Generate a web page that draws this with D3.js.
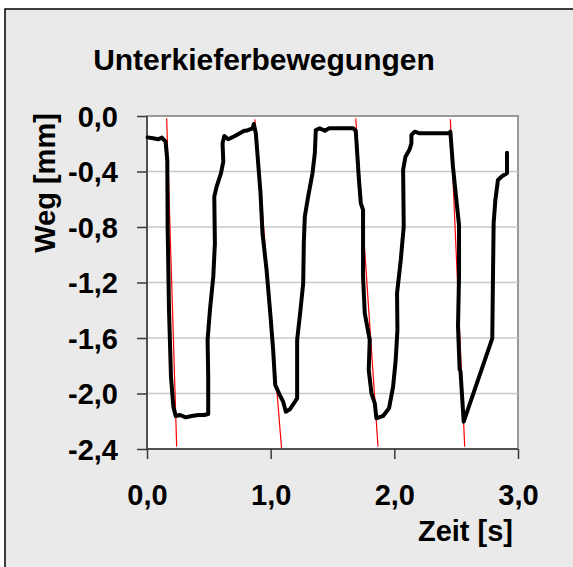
<!DOCTYPE html>
<html>
<head>
<meta charset="utf-8">
<script src="https://cdn.jsdelivr.net/npm/d3@7"></script>
<style>
  body { margin: 0; background: #ffffff; }
  svg { display: block; font-family: "Liberation Sans", Arial, sans-serif; }
  .axis path, .axis line { stroke: #3a3a3a; stroke-width: 1.5; }
  .axis text { font-weight: bold; font-size: 29px; fill: #000; }
</style>
</head>
<body>
<div id="chart"></div>
<script>
// measured jaw movement (time in s, path in mm)
const timeS = [0.005, 0.05, 0.09, 0.12, 0.15, 0.164, 0.167, 0.178, 0.194, 0.213, 0.232, 0.267, 0.313, 0.361, 0.415, 0.463, 0.495,
  0.495, 0.49, 0.509, 0.536, 0.549, 0.544, 0.563, 0.598, 0.617, 0.611, 0.625, 0.657, 0.711, 0.786, 0.805, 0.854, 0.864, 0.88,
  0.918, 0.934, 0.967, 0.999, 1.02, 1.037, 1.074, 1.101, 1.123, 1.155, 1.214, 1.214, 1.241, 1.263, 1.268, 1.276, 1.303, 1.338,
  1.357, 1.365, 1.397, 1.438, 1.473, 1.553, 1.667, 1.688, 1.712, 1.729, 1.747, 1.747, 1.761, 1.801, 1.793, 1.815, 1.842, 1.855,
  1.909, 1.957, 1.99, 2.011, 2.025, 2.022, 2.052, 2.076, 2.071, 2.09, 2.124, 2.138, 2.138, 2.165, 2.205, 2.321, 2.442, 2.453,
  2.474, 2.496, 2.523, 2.523, 2.515, 2.528, 2.535, 2.561, 2.792, 2.797, 2.803, 2.817, 2.838, 2.873, 2.911, 2.911];
const wegMm = [-0.154, -0.161, -0.168, -0.156, -0.185, -0.317, -0.8, -1.4, -1.88, -2.095, -2.162, -2.155, -2.172, -2.162, -2.155, -2.155, -2.148,
  -1.88, -1.614, -1.398, -1.158, -0.918, -0.581, -0.509, -0.413, -0.329, -0.197, -0.144, -0.168, -0.144, -0.106, -0.106, -0.089, -0.058, -0.125,
  -0.557, -0.846, -1.11, -1.446, -1.686, -1.939, -2.011, -2.059, -2.131, -2.114, -2.035, -1.614, -1.398, -1.206, -0.918, -0.725, -0.581, -0.413,
  -0.269, -0.101, -0.089, -0.106, -0.089, -0.089, -0.089, -0.106, -0.437, -0.629, -0.677, -1.158, -1.422, -1.614, -1.831, -1.999, -2.071, -2.179,
  -2.162, -2.107, -1.951, -1.759, -1.542, -1.278, -1.038, -0.797, -0.389, -0.293, -0.24, -0.197, -0.137, -0.113, -0.125, -0.125, -0.125, -0.113,
  -0.365, -0.557, -0.786, -1.158, -1.518, -1.826, -1.84, -2.203, -1.602, -1.206, -0.774, -0.605, -0.461, -0.432, -0.413, -0.264];

// fitted lines on the closing phases: [start, end]
const fitStartT = [0.159, 0.872, 1.688, 2.453];
const fitStartV = [-0.017, -0.024, -0.017, -0.024];
const fitEndT = [0.24, 1.088, 1.868, 2.569];
const fitEndV = [-2.383, -2.395, -2.383, -2.383];

const xTicks = [0, 1, 2, 3];
const yTicks = [0, -0.4, -0.8, -1.2, -1.6, -2.0, -2.4];

const width = 573, height = 567;
const plot = { left: 147, top: 116, right: 518, bottom: 449 };

const locale = d3.formatLocale({ decimal: ",", thousands: ".", grouping: [3], currency: ["", "€"], minus: "-" });
const fmt = locale.format(".1f");

const svg = d3.select("#chart").append("svg").attr("width", width).attr("height", height);

svg.append("rect").attr("width", width).attr("height", height).attr("fill", "#ffffff");
svg.append("rect")
  .attr("x", 5).attr("y", 9).attr("width", 700).attr("height", 700)
  .attr("fill", "#eaeaea").attr("stroke", "#000").attr("stroke-width", 1.5);

const x = d3.scaleLinear().domain([0, 3]).range([plot.left, plot.right]);
const y = d3.scaleLinear().domain([0, -2.4]).range([plot.top, plot.bottom]);

svg.append("rect")
  .attr("x", plot.left).attr("y", plot.top)
  .attr("width", plot.right - plot.left).attr("height", plot.bottom - plot.top)
  .attr("fill", "#fff").attr("stroke", "#999").attr("stroke-width", 2);

// grid
svg.append("g")
  .selectAll("line")
  .data(yTicks.slice(1, -1))
  .enter()
  .append("line")
  .attr("x1", plot.left).attr("x2", plot.right)
  .attr("y1", (d) => y(d)).attr("y2", (d) => y(d))
  .style("stroke", "#c8c8c8").style("stroke-width", 1.5);

const xAxis = d3.axisBottom(x).tickValues(xTicks).tickSize(10).tickFormat(fmt).tickPadding(25);
const yAxis = d3.axisLeft(y).tickValues(yTicks).tickSize(10).tickFormat(fmt).tickPadding(19);

svg.append("g")
  .attr("class", "axis")
  .attr("transform", "translate(0," + plot.bottom + ")")
  .call(xAxis)
  .call((g) => g.select(".domain").attr("d", "M" + plot.left + ",0H" + plot.right));

svg.append("g")
  .attr("class", "axis")
  .attr("transform", "translate(" + plot.left + ",0)")
  .call(yAxis)
  .call((g) => g.select(".domain").attr("d", "M0," + plot.top + "V" + plot.bottom))
  .selectAll("text").attr("dy", "0.36em");

// red fit lines
svg.append("g")
  .selectAll("line")
  .data(fitStartT.map((t, i) => i))
  .enter()
  .append("line")
  .attr("x1", (i) => x(fitStartT[i])).attr("y1", (i) => y(fitStartV[i]))
  .attr("x2", (i) => x(fitEndT[i])).attr("y2", (i) => y(fitEndV[i]))
  .style("stroke", "#ff0000").style("stroke-width", 1.2);

const line = d3.line()
  .x((d, i) => x(timeS[i]))
  .y((d) => y(d));

svg.append("path")
  .attr("d", line(wegMm))
  .attr("fill", "none")
  .style("stroke", "#000")
  .style("stroke-width", 4)
  .style("stroke-linejoin", "round")
  .style("stroke-linecap", "round");

const labels = svg.append("g").style("font-weight", "bold").style("fill", "#000");

labels.append("text")
  .attr("x", 264).attr("y", 70)
  .attr("text-anchor", "middle")
  .style("font-size", "30px")
  .text("Unterkieferbewegungen");

labels.append("text")
  .attr("x", 513).attr("y", 541)
  .attr("text-anchor", "end")
  .style("font-size", "29px")
  .text("Zeit [s]");

labels.append("text")
  .attr("transform", "translate(55,183) rotate(-90)")
  .attr("text-anchor", "middle")
  .style("font-size", "29px")
  .text("Weg [mm]");
</script>
</body>
</html>
